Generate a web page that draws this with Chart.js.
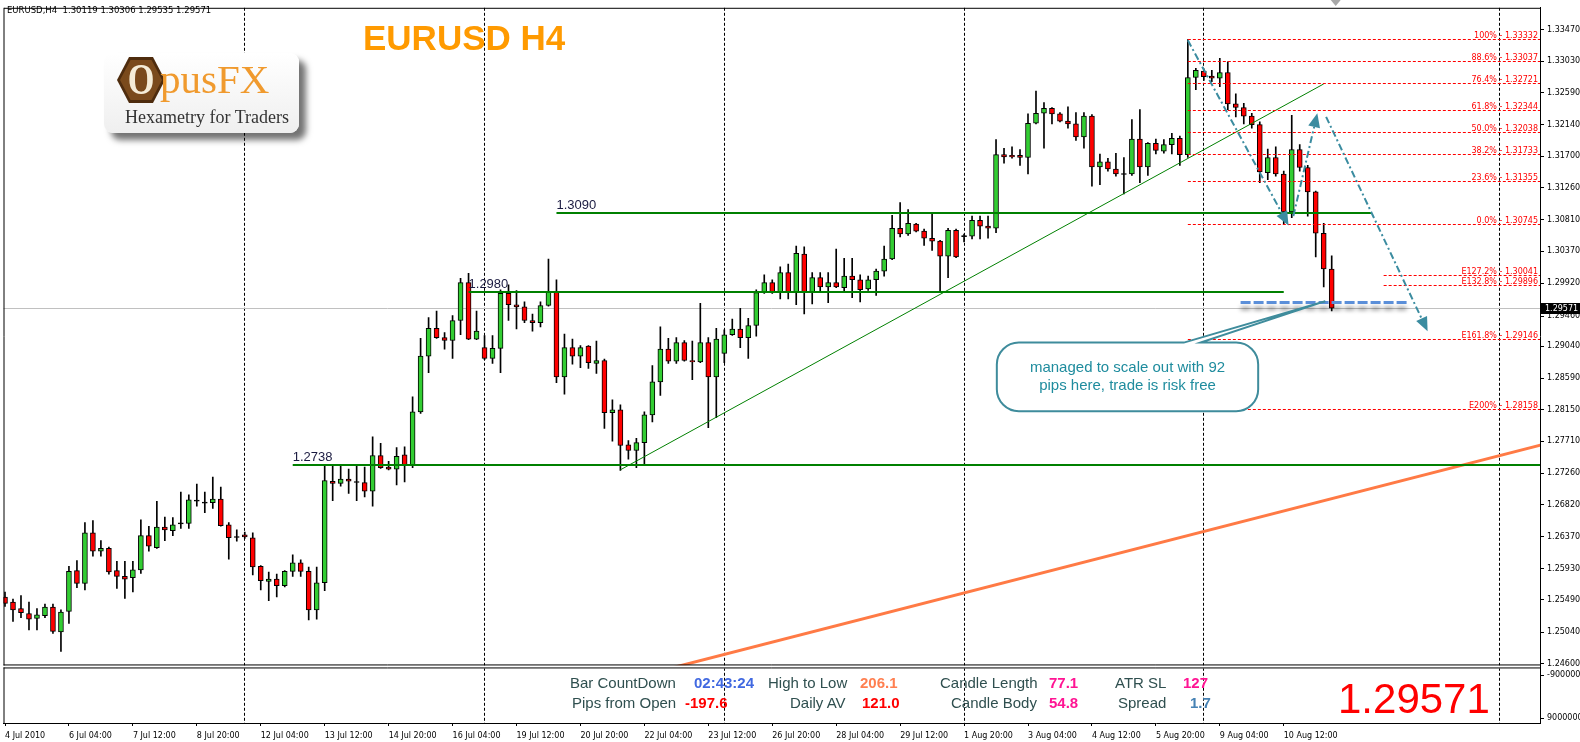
<!DOCTYPE html>
<html>
<head>
<meta charset="utf-8">
<title>EURUSD H4</title>
<script src="https://cdn.jsdelivr.net/npm/chart.js@4.4.1/dist/chart.umd.min.js"></script>
<style>
  html, body { margin: 0; padding: 0; background: #fff; }
  #wrap { position: relative; width: 1580px; height: 742px; overflow: hidden; font-family: 'Liberation Sans', Arial, sans-serif; }
  #chart { position: absolute; left: 0; top: 0; }
  .abs { position: absolute; white-space: pre; }
  #header { left: 7px; top: 6px; font-family: 'DejaVu Sans', sans-serif; font-size: 8.5px; line-height: 9px; color: #000; }
  #title { left: 363px; top: 20px; font-size: 35px; line-height: 35px; font-weight: bold; color: #ff9a00; }
  #logo { left: 104px; top: 53px; width: 195px; height: 80px; border-radius: 9px; background: linear-gradient(#ffffff, #efefef); box-shadow: 7px 7px 6px rgba(0,0,0,0.55); }
  #hex { left: 13px; top: 4px; width: 48px; height: 46px; background: #4e2c0e; clip-path: polygon(25% 0, 75% 0, 100% 50%, 75% 100%, 25% 100%, 0 50%); }
  #hexin { left: 3px; top: 3px; width: 42px; height: 40px; background: #7a4a1c; clip-path: polygon(25% 0, 75% 0, 100% 50%, 75% 100%, 25% 100%, 0 50%); }
  #hexo { left: 0; top: 0; width: 42px; text-align: center; font-family: 'Liberation Serif', serif; font-weight: bold; font-size: 44px; line-height: 40px; color: #f5ecd7; transform: scaleX(0.78); }
  #pus { left: 56px; top: 6px; font-family: 'Liberation Serif', serif; font-size: 41px; line-height: 41px; color: #f09a2e; }
  #tag { left: 21px; top: 55px; font-family: 'Liberation Serif', serif; font-size: 18px; line-height: 18px; color: #333; }
  .lbl { font-size: 15px; line-height: 15px; color: #2f4f4f; }
  .val { font-size: 15px; line-height: 15px; font-weight: bold; }
  .r1 { top: 675px; }
  .r2 { top: 695px; }
  #big { left: 1338px; top: 678px; font-size: 42px; line-height: 42px; color: #ff0000; }
</style>
</head>
<body>
<div id="wrap">
  <canvas id="chart" width="1580" height="742"></canvas>
  <div id="header" class="abs">EURUSD,H4  1.30119 1.30306 1.29535 1.29571</div>
  <div id="title" class="abs">EURUSD H4</div>
  <div id="logo" class="abs">
    <div id="hex" class="abs"><div id="hexin" class="abs"><div id="hexo" class="abs">O</div></div></div>
    <div id="pus" class="abs">pusFX</div>
    <div id="tag" class="abs">Hexametry for Traders</div>
  </div>
  <div class="abs lbl r1" style="left:570px">Bar CountDown</div>
  <div class="abs val r1" style="left:694px;color:#4169e1">02:43:24</div>
  <div class="abs lbl r1" style="left:768px">High to Low</div>
  <div class="abs val r1" style="left:860px;color:#ff7f50">206.1</div>
  <div class="abs lbl r1" style="left:940px">Candle Length</div>
  <div class="abs val r1" style="left:1049px;color:#ff1493">77.1</div>
  <div class="abs lbl r1" style="left:1115px">ATR SL</div>
  <div class="abs val r1" style="left:1183px;color:#ff1493">127</div>
  <div class="abs lbl r2" style="left:572px">Pips from Open</div>
  <div class="abs val r2" style="left:685px;color:#ff0000">-197.6</div>
  <div class="abs lbl r2" style="left:790px">Daily AV</div>
  <div class="abs val r2" style="left:862px;color:#ff0000">121.0</div>
  <div class="abs lbl r2" style="left:951px">Candle Body</div>
  <div class="abs val r2" style="left:1049px;color:#ff1493">54.8</div>
  <div class="abs lbl r2" style="left:1118px">Spread</div>
  <div class="abs val r2" style="left:1190px;color:#4682b4">1.7</div>
  <div id="big" class="abs">1.29571</div>
</div>
<script>
// Candles (H4 bars, index = position in the arrays)
const opens = [
  1.2553,1.2546,1.2537,1.2530,1.2523,1.2527,1.2539,1.2504,1.2533,1.2590,
  1.2572,1.2643,1.2617,1.2621,1.2590,1.2582,1.2580,1.2591,1.2639,1.2622,
  1.2651,1.2646,1.2656,1.2656,1.2688,1.2685,1.2685,1.2690,1.2654,1.2637,
  1.2640,1.2636,1.2596,1.2575,1.2578,1.2569,1.2589,1.2601,1.2589,1.2535,
  1.2573,1.2715,1.2712,1.2718,1.2714,1.2713,1.2701,1.2751,1.2735,1.2732,
  1.2752,1.2738,1.2812,1.2890,1.2929,1.2916,1.2912,1.2940,1.2993,1.2914,
  1.2902,1.2887,1.2901,1.2978,1.2962,1.2959,1.2940,1.2937,1.2961,1.2980,
  1.2861,1.2902,1.2890,1.2904,1.2880,1.2884,1.2811,1.2815,1.2766,1.2758,
  1.2769,1.2808,1.2854,1.2900,1.2883,1.2909,1.2884,1.2882,1.2909,1.2861,
  1.2894,1.2920,1.2928,1.2916,1.2933,1.2979,1.2993,1.2979,1.3007,1.2980,
  1.3033,1.2980,1.3000,1.2987,1.2993,1.2986,1.3002,1.2997,1.2984,1.2997,
  1.3009,1.3026,1.3069,1.3061,1.3075,1.3065,1.3055,1.3051,1.3030,1.3066,
  1.3058,1.3058,1.3080,1.3072,1.3069,1.3172,1.3171,1.3171,1.3168,1.3216,
  1.3230,1.3237,1.3229,1.3219,1.3215,1.3197,1.3226,1.3155,1.3162,1.3152,
  1.3145,1.3145,1.3194,1.3155,1.3188,1.3177,1.3186,1.3195,1.3172,1.3280,
  1.3289,1.3282,1.3279,1.3287,1.3243,1.3238,1.3226,1.3214,1.3147,1.3168,
  1.3145,1.3092,1.3179,1.3154,1.3120,1.3062,1.30119
];
const highs = [
  1.2560,1.2550,1.2555,1.2546,1.2537,1.2543,1.2543,1.2535,1.2596,1.2604,
  1.2657,1.2660,1.2632,1.2623,1.2603,1.2603,1.2603,1.2661,1.2652,1.2687,
  1.2665,1.2664,1.2700,1.2696,1.2711,1.2700,1.2721,1.2707,1.2657,1.2647,
  1.2644,1.2643,1.2597,1.2588,1.2585,1.2590,1.2612,1.2605,1.2595,1.2595,
  1.2737,1.2737,1.2737,1.2732,1.2736,1.2735,1.2777,1.2768,1.2743,1.2762,
  1.2763,1.2833,1.2915,1.2944,1.2953,1.2923,1.2947,1.2999,1.3006,1.2953,
  1.2919,1.2919,1.2983,1.2990,1.2982,1.2966,1.2949,1.2966,1.3026,1.2997,
  1.2921,1.2914,1.2905,1.2905,1.2911,1.2886,1.2829,1.2822,1.2772,1.2775,
  1.2812,1.2877,1.2931,1.2915,1.2916,1.2912,1.2911,1.2964,1.2916,1.2929,
  1.2927,1.2942,1.2957,1.2943,1.2983,1.3004,1.2997,1.3015,1.3019,1.3044,
  1.3043,1.3007,1.3007,1.3007,1.3040,1.3027,1.3027,1.3004,1.3002,1.3012,
  1.3044,1.3087,1.3105,1.3095,1.3076,1.3068,1.3091,1.3052,1.3069,1.3068,
  1.3061,1.3086,1.3086,1.3086,1.3193,1.3181,1.3183,1.3179,1.3229,1.3261,
  1.3245,1.3238,1.3231,1.3239,1.3231,1.3231,1.3228,1.3173,1.3167,1.3174,
  1.3168,1.3221,1.3235,1.3189,1.3194,1.3193,1.3202,1.3198,1.33332,1.3293,
  1.3292,1.3290,1.3307,1.3302,1.3257,1.3244,1.3230,1.3218,1.3180,1.3183,
  1.3149,1.3227,1.3186,1.3157,1.3121,1.3076,1.30306
];
const lows = [
  1.2540,1.2519,1.2524,1.2507,1.2507,1.2524,1.2502,1.2477,1.2516,1.2566,
  1.2563,1.2610,1.2610,1.2585,1.2565,1.2551,1.2560,1.2586,1.2617,1.2621,
  1.2632,1.2639,1.2649,1.2649,1.2680,1.2671,1.2677,1.2652,1.2606,1.2631,
  1.2635,1.2584,1.2563,1.2548,1.2553,1.2567,1.2582,1.2582,1.2521,1.2522,
  1.2562,1.2688,1.2708,1.2698,1.2688,1.2693,1.2680,1.2733,1.2731,1.2710,
  1.2714,1.2734,1.2810,1.2867,1.2915,1.2900,1.2887,1.2920,1.2913,1.2913,
  1.2885,1.2880,1.2867,1.2940,1.2928,1.2937,1.2925,1.2931,1.2960,1.2853,
  1.2837,1.2879,1.2874,1.2873,1.2866,1.2789,1.2771,1.2730,1.2746,1.2734,
  1.2738,1.2798,1.2835,1.2880,1.2880,1.2883,1.2857,1.2881,1.2790,1.2804,
  1.2881,1.2919,1.2902,1.2887,1.2918,1.2978,1.2978,1.2970,1.2970,1.2962,
  1.2949,1.2963,1.2980,1.2965,1.2986,1.2980,1.2972,1.2966,1.2982,1.2975,
  1.3002,1.3025,1.3057,1.3059,1.3064,1.3045,1.3038,1.2980,1.3000,1.3028,
  1.3050,1.3054,1.3054,1.3055,1.3063,1.3160,1.3167,1.3157,1.3145,1.3215,
  1.3181,1.3215,1.3218,1.3209,1.3192,1.3181,1.3128,1.3130,1.3149,1.3142,
  1.3117,1.3143,1.3133,1.3143,1.3173,1.3174,1.3173,1.3157,1.3168,1.3263,
  1.3276,1.3274,1.3267,1.3235,1.3225,1.3215,1.3209,1.3133,1.3137,1.3142,
  1.30745,1.3084,1.3149,1.3086,1.3029,1.2987,1.29535
];
const closes = [
  1.2544,1.2535,1.2531,1.2522,1.2528,1.2539,1.2505,1.2532,1.2589,1.2572,
  1.2643,1.2617,1.2621,1.2588,1.2582,1.2578,1.2591,1.2639,1.2624,1.2651,
  1.2647,1.2654,1.2656,1.2689,1.2688,1.2685,1.2690,1.2653,1.2636,1.2637,
  1.2637,1.2595,1.2576,1.2578,1.2569,1.2589,1.2601,1.2589,1.2535,1.2573,
  1.2716,1.2712,1.2718,1.2715,1.2714,1.2701,1.2751,1.2734,1.2732,1.2750,
  1.2738,1.2812,1.2890,1.2929,1.2916,1.2912,1.2940,1.2993,1.2914,1.2925,
  1.2887,1.2901,1.2978,1.2962,1.2959,1.2940,1.2937,1.2961,1.2980,1.2861,
  1.2902,1.2890,1.2902,1.2881,1.2884,1.2811,1.2815,1.2765,1.2758,1.2769,
  1.2808,1.2854,1.2900,1.2883,1.2909,1.2884,1.2882,1.2909,1.2861,1.2914,
  1.2920,1.2928,1.2916,1.2933,1.2979,1.2993,1.2979,1.3007,1.2980,1.3034,
  1.2980,1.3000,1.2987,1.2993,1.2987,1.3002,1.2997,1.2983,1.2997,1.3009,
  1.3026,1.3069,1.3061,1.3076,1.3065,1.3055,1.3051,1.3030,1.3066,1.3029,
  1.3058,1.3080,1.3072,1.3069,1.3172,1.3169,1.3169,1.3168,1.3216,1.3230,
  1.3237,1.3229,1.3219,1.3215,1.3197,1.3226,1.3155,1.3162,1.3152,1.3145,
  1.3145,1.3194,1.3155,1.3188,1.3178,1.3186,1.3195,1.3172,1.3280,1.3290,
  1.3281,1.3279,1.3287,1.3243,1.3238,1.3226,1.3214,1.3148,1.3168,1.3145,
  1.3092,1.3179,1.3154,1.3120,1.3062,1.3012,1.29571
];

// Axis ticks
const dateTickBars = [0, 8, 16, 24, 32, 40, 48, 56, 64, 72, 80, 88, 96, 104, 112, 120, 128, 136, 144, 152, 160];
const dateTickLabels = ['4 Jul 2010', '6 Jul 04:00', '7 Jul 12:00', '8 Jul 20:00', '12 Jul 04:00', '13 Jul 12:00',
  '14 Jul 20:00', '16 Jul 04:00', '19 Jul 12:00', '20 Jul 20:00', '22 Jul 04:00', '23 Jul 12:00', '26 Jul 20:00',
  '28 Jul 04:00', '29 Jul 12:00', '1 Aug 20:00', '3 Aug 04:00', '4 Aug 12:00', '5 Aug 20:00', '9 Aug 04:00', '10 Aug 12:00'];
const priceTicks = [1.33470, 1.33030, 1.32590, 1.32140, 1.31700, 1.31260, 1.30810, 1.30370, 1.29920, 1.29460,
  1.29040, 1.28590, 1.28150, 1.27710, 1.27260, 1.26820, 1.26370, 1.25930, 1.25490, 1.25040, 1.24600];
const subTicks = [-9000000, 9000000];
const separatorBars = [30, 60, 90, 120, 150, 187];
const lastPrice = 1.29571;

// Drawn objects
const levelPrices = [1.2738, 1.2980, 1.3090];
const levelLabels = ['1.2738', '1.2980', '1.3090'];
const levelFrom = [36, 58, 69];
const levelTo = [193, 160, 171];

const fibNames = ['100%', '88.6%', '76.4%', '61.8%', '50.0%', '38.2%', '23.6%', '0.0%', 'E127.2%', 'E132.8%', 'E161.8%', 'E200%'];
const fibPrices = [1.33332, 1.33037, 1.32721, 1.32344, 1.32038, 1.31733, 1.31355, 1.30745, 1.30041, 1.29896, 1.29146, 1.28158];
const fibFrom = [148, 148, 148, 148, 148, 148, 148, 148, 172.5, 172.5, 148, 148];

const trendBars = [77, 165];
const trendPrices = [1.2731, 1.3271];
const channelBars = [80, 193];
const channelPrices = [1.2444, 1.2768];

const arrowFromBars = [148, 161.2, 165.3];
const arrowFromPrices = [1.3332, 1.3086, 1.3225];
const arrowToBars = [160.6, 164.2, 178];
const arrowToPrices = [1.3073, 1.3230, 1.2925];

const scaleOutBars = [154.6, 175.5];
const scaleOutPrice = 1.2965;

const noteLines = ['managed to scale out with 92', 'pips here, trade is risk free'];
const noteBars = [124.1, 156.8];
const notePrices = [1.2909, 1.2813];
const notePointerBars = [147.5, 149.6];
const noteTip = [165.2, 1.2967];

const UP = '#32cd32';
const DOWN = '#ff0000';
const TEAL = '#3b8ca0';
const SMALL = "8px 'DejaVu Sans'";

Chart.defaults.font.family = "'DejaVu Sans', sans-serif";

function segment(ctx, x, y, bars, prices, color, width) {
  ctx.strokeStyle = color;
  ctx.lineWidth = width;
  ctx.beginPath();
  ctx.moveTo(x.getPixelForValue(bars[0]), y.getPixelForValue(prices[0]));
  ctx.lineTo(x.getPixelForValue(bars[1]), y.getPixelForValue(prices[1]));
  ctx.stroke();
}

function arrow(ctx, x1, y1, x2, y2) {
  const ang = Math.atan2(y2 - y1, x2 - x1);
  const len = 14, half = 6;
  const bx = x2 - len * Math.cos(ang), by = y2 - len * Math.sin(ang);
  ctx.setLineDash([7, 3, 2, 3]);
  ctx.beginPath();
  ctx.moveTo(x1, y1);
  ctx.lineTo(bx, by);
  ctx.stroke();
  ctx.setLineDash([]);
  ctx.beginPath();
  ctx.moveTo(x2, y2);
  ctx.lineTo(bx + half * Math.sin(ang), by - half * Math.cos(ang));
  ctx.lineTo(bx - half * Math.sin(ang), by + half * Math.cos(ang));
  ctx.closePath();
  ctx.fill();
}

// Objects drawn on the price pane
const drawings = {
  id: 'drawings',
  beforeDatasetsDraw(chart) {
    const {ctx, chartArea: a, scales: {x, y}} = chart;
    ctx.save();
    ctx.lineWidth = 1;
    ctx.strokeStyle = '#000';
    ctx.setLineDash([3, 2]);
    separatorBars.forEach(b => {
      const sx = Math.floor(x.getPixelForValue(b)) + 0.5;
      ctx.beginPath();
      ctx.moveTo(sx, a.top);
      ctx.lineTo(sx, a.bottom);
      ctx.stroke();
    });
    ctx.setLineDash([]);
    const ly = Math.round(y.getPixelForValue(lastPrice)) + 0.5;
    ctx.strokeStyle = '#c0c0c0';
    ctx.beginPath();
    ctx.moveTo(a.left, ly);
    ctx.lineTo(a.right, ly);
    ctx.stroke();
    ctx.restore();
  },
  afterDatasetsDraw(chart) {
    const {ctx, chartArea: a, scales: {x, y}} = chart;
    ctx.save();
    ctx.beginPath();
    ctx.rect(a.left, y.top, a.right - a.left, y.bottom - y.top);
    ctx.clip();

    segment(ctx, x, y, channelBars, channelPrices, '#ff7a45', 3);
    segment(ctx, x, y, trendBars, trendPrices, '#008000', 1);

    // horizontal levels
    ctx.font = "13px 'Liberation Sans'";
    ctx.textAlign = 'left';
    ctx.textBaseline = 'alphabetic';
    levelPrices.forEach((p, k) => {
      const ly = Math.round(y.getPixelForValue(p));
      const x1 = x.getPixelForValue(levelFrom[k]);
      ctx.strokeStyle = '#008000';
      ctx.lineWidth = 2;
      ctx.beginPath();
      ctx.moveTo(x1, ly);
      ctx.lineTo(x.getPixelForValue(levelTo[k]), ly);
      ctx.stroke();
      ctx.fillStyle = '#1a1a40';
      ctx.fillText(levelLabels[k], x1, ly - 4);
    });

    // fibonacci levels
    ctx.setLineDash([3, 2]);
    ctx.lineWidth = 1;
    ctx.strokeStyle = '#ff0000';
    ctx.fillStyle = '#ff0000';
    ctx.font = SMALL;
    ctx.textAlign = 'right';
    fibPrices.forEach((p, k) => {
      const fy = Math.round(y.getPixelForValue(p)) + 0.5;
      ctx.beginPath();
      ctx.moveTo(x.getPixelForValue(fibFrom[k]), fy);
      ctx.lineTo(a.right, fy);
      ctx.stroke();
      ctx.fillText(fibNames[k] + ' - ' + p.toFixed(5), a.right - 2, fy - 2);
    });
    ctx.setLineDash([]);

    // scale-out line
    ctx.save();
    ctx.setLineDash([10, 3]);
    ctx.lineWidth = 3;
    ctx.strokeStyle = '#5b8fd9';
    ctx.shadowColor = 'rgba(0,0,0,0.45)';
    ctx.shadowOffsetY = 6;
    ctx.shadowBlur = 4;
    const sy = y.getPixelForValue(scaleOutPrice);
    ctx.beginPath();
    ctx.moveTo(x.getPixelForValue(scaleOutBars[0]), sy);
    ctx.lineTo(x.getPixelForValue(scaleOutBars[1]), sy);
    ctx.stroke();
    ctx.restore();

    // arrows
    ctx.strokeStyle = TEAL;
    ctx.fillStyle = TEAL;
    ctx.lineWidth = 2;
    arrowFromBars.forEach((b, k) => {
      arrow(ctx, x.getPixelForValue(b), y.getPixelForValue(arrowFromPrices[k]),
        x.getPixelForValue(arrowToBars[k]), y.getPixelForValue(arrowToPrices[k]));
    });

    // callout
    const l = x.getPixelForValue(noteBars[0]), r = x.getPixelForValue(noteBars[1]);
    const t = y.getPixelForValue(notePrices[0]), b = y.getPixelForValue(notePrices[1]);
    const rad = 22;
    ctx.beginPath();
    ctx.moveTo(l + rad, t);
    ctx.lineTo(x.getPixelForValue(notePointerBars[0]), t);
    ctx.lineTo(x.getPixelForValue(noteTip[0]), y.getPixelForValue(noteTip[1]));
    ctx.lineTo(x.getPixelForValue(notePointerBars[1]), t);
    ctx.lineTo(r - rad, t);
    ctx.arcTo(r, t, r, t + rad, rad);
    ctx.lineTo(r, b - rad);
    ctx.arcTo(r, b, r - rad, b, rad);
    ctx.lineTo(l + rad, b);
    ctx.arcTo(l, b, l, b - rad, rad);
    ctx.lineTo(l, t + rad);
    ctx.arcTo(l, t, l + rad, t, rad);
    ctx.closePath();
    ctx.fillStyle = '#fff';
    ctx.fill();
    ctx.strokeStyle = '#3f8c9c';
    ctx.lineWidth = 2;
    ctx.stroke();
    ctx.fillStyle = '#1f8c9e';
    ctx.font = "15px 'Liberation Sans'";
    ctx.textAlign = 'center';
    ctx.textBaseline = 'middle';
    const cx = (l + r) / 2, cy = (t + b) / 2;
    ctx.fillText(noteLines[0], cx, cy - 9);
    ctx.fillText(noteLines[1], cx, cy + 9);
    ctx.restore();
  },
  afterDraw(chart) {
    const {ctx, chartArea: a, scales: {x, y, y2}} = chart;
    ctx.save();
    // gap between the two panes
    ctx.fillStyle = '#fff';
    ctx.fillRect(a.left, y2.top, a.right - a.left, 3);
    ctx.strokeStyle = '#000';
    ctx.lineWidth = 1;
    ctx.beginPath();
    ctx.moveTo(a.left + 0.5, y.top + 0.5); ctx.lineTo(a.right, y.top + 0.5);
    ctx.moveTo(a.left + 0.5, y.top); ctx.lineTo(a.left + 0.5, y.bottom);
    ctx.moveTo(a.left, y.bottom - 0.5); ctx.lineTo(a.right, y.bottom - 0.5);
    ctx.moveTo(a.left, y2.top + 2.5); ctx.lineTo(a.right, y2.top + 2.5);
    ctx.moveTo(a.left + 0.5, y2.top + 2); ctx.lineTo(a.left + 0.5, y2.bottom);
    ctx.stroke();

    // current price label
    const py = y.getPixelForValue(lastPrice);
    ctx.fillStyle = '#000';
    ctx.fillRect(a.right + 1, Math.round(py) - 5, 40, 11);
    ctx.fillStyle = '#fff';
    ctx.font = SMALL;
    ctx.textAlign = 'left';
    ctx.textBaseline = 'middle';
    ctx.fillText(lastPrice.toFixed(5), a.right + 5, Math.round(py) + 0.5);

    // chart shift marker
    const mx = x.getPixelForValue(166.5);
    ctx.fillStyle = '#a8a8a8';
    ctx.beginPath();
    ctx.moveTo(mx - 5, 0);
    ctx.lineTo(mx + 5, 0);
    ctx.lineTo(mx, 6);
    ctx.closePath();
    ctx.fill();
    ctx.restore();
  }
};

const idx = opens.map((o, i) => i);
const tickFont = {family: "'DejaVu Sans'", size: 8};

new Chart(document.getElementById('chart'), {
  type: 'bar',
  data: {
    datasets: [
      {
        label: 'range',
        data: idx.map(i => ({x: i, y: [lows[i], highs[i]]})),
        backgroundColor: '#000',
        barThickness: 1,
        grouped: false,
        order: 2,
        yAxisID: 'y'
      },
      {
        label: 'body',
        data: idx.map(i => ({
          x: i,
          y: opens[i] === closes[i] ? [opens[i] - 0.00007, opens[i] + 0.00007] : [opens[i], closes[i]]
        })),
        backgroundColor: idx.map(i => closes[i] > opens[i] ? UP : (closes[i] < opens[i] ? DOWN : '#000')),
        borderColor: '#000',
        borderWidth: 1,
        borderSkipped: false,
        barThickness: 5,
        grouped: false,
        order: 1,
        yAxisID: 'y'
      }
    ]
  },
  options: {
    responsive: false,
    animation: false,
    devicePixelRatio: 1,
    events: [],
    layout: {autoPadding: false, padding: {left: 2, top: 2, right: 0, bottom: 0}},
    plugins: {legend: {display: false}, tooltip: {enabled: false}},
    scales: {
      x: {
        type: 'linear',
        position: 'bottom',
        min: -0.1875,
        max: 192.0625,
        offset: false,
        afterBuildTicks: s => { s.ticks = dateTickBars.map(v => ({value: v})); },
        afterFit: s => { s.height = 19; },
        ticks: {
          autoSkip: false,
          maxRotation: 0,
          align: 'start',
          padding: 5,
          color: '#000',
          font: tickFont,
          callback: v => dateTickLabels[dateTickBars.indexOf(v)]
        },
        grid: {drawOnChartArea: false, drawTicks: true, tickLength: 3, color: '#000', offset: false},
        border: {display: true, color: '#000'}
      },
      y: {
        type: 'linear',
        position: 'right',
        stack: 'panes',
        stackWeight: 663,
        beginAtZero: false,
        min: 1.245722,
        max: 1.337754,
        afterBuildTicks: s => { s.ticks = priceTicks.map(v => ({value: v})); },
        afterFit: s => { s.width = 40; },
        ticks: {autoSkip: false, padding: 3, color: '#000', font: tickFont, callback: v => v.toFixed(5)},
        grid: {drawOnChartArea: false, tickLength: 4, color: '#000'},
        border: {display: true, color: '#000'}
      },
      y2: {
        type: 'linear',
        position: 'right',
        stack: 'panes',
        stackWeight: 58,
        reverse: true,
        min: -13200000,
        max: 11100000,
        afterBuildTicks: s => { s.ticks = subTicks.map(v => ({value: v})); },
        afterFit: s => { s.width = 40; },
        ticks: {autoSkip: false, padding: 3, color: '#000', font: tickFont, callback: v => String(v)},
        grid: {drawOnChartArea: false, tickLength: 4, color: '#000'},
        border: {display: true, color: '#000'}
      }
    }
  },
  plugins: [drawings]
});
</script>
</body>
</html>
